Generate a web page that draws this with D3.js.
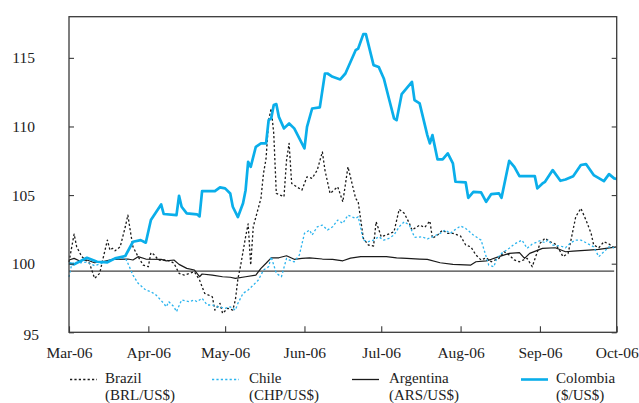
<!DOCTYPE html>
<html>
<head>
<meta charset="utf-8">
<script src="https://cdn.jsdelivr.net/npm/d3@7"></script>
<style>
  html, body { margin: 0; padding: 0; background: #fff; }
  svg { display: block; }
  text { font-family: "Liberation Serif", "Times New Roman", serif; fill: #222; }
</style>
</head>
<body>
<svg id="chart" width="639" height="403"></svg>
<script>
// Exchange rate indices, March 2006 = 100 (local currency per US$)
const brazil = [
  ["2006-03-01",100.12],["2006-03-03",102.16],["2006-03-04",101.23],["2006-03-06",100.51],["2006-03-09",100.03],
  ["2006-03-11",98.93],["2006-03-13",99.30],["2006-03-14",100.14],["2006-03-16",101.72],["2006-03-17",100.99],
  ["2006-03-18",101.12],["2006-03-19",100.94],["2006-03-21",101.23],["2006-03-23",102.69],["2006-03-24",103.54],
  ["2006-03-25",102.33],["2006-03-26",101.23],["2006-03-28",100.51],["2006-03-30",99.90],["2006-04-01",99.78],
  ["2006-04-02",100.80],["2006-04-03",100.70],["2006-04-05",100.27],["2006-04-08",100.27],["2006-04-10",100.14],
  ["2006-04-11",100.03],["2006-04-13",99.30],["2006-04-15",99.17],["2006-04-19",99.41],["2006-04-21",98.81],
  ["2006-04-23",97.84],["2006-04-26",97.59],["2006-04-27",96.62],["2006-04-29",97.11],["2006-04-30",96.38],
  ["2006-05-02",96.75],["2006-05-04",96.62],["2006-05-05",97.35],["2006-05-06",98.90],["2006-05-07",99.80],
  ["2006-05-09",101.96],["2006-05-10",102.90],["2006-05-11",99.90],["2006-05-12",102.70],["2006-05-15",104.76],
  ["2006-05-16",106.58],["2006-05-17",107.67],["2006-05-18",110.46],["2006-05-19",111.31],["2006-05-20",109.49],
  ["2006-05-21",105.12],["2006-05-24",104.88],["2006-05-25",107.55],["2006-05-26",108.77],["2006-05-27",105.85],
  ["2006-05-29",105.60],["2006-05-31",105.36],["2006-06-02",106.33],["2006-06-04",106.22],["2006-06-06",106.82],
  ["2006-06-08",108.15],["2006-06-09",106.82],["2006-06-11",105.12],["2006-06-14",105.60],["2006-06-16",104.51],
  ["2006-06-18",107.06],["2006-06-21",104.76],["2006-06-22",104.51],["2006-06-24",101.85],["2006-06-26",101.36],
  ["2006-06-28",101.29],["2006-06-29",103.06],["2006-07-01",101.96],["2006-07-03",102.09],["2006-07-06",102.33],
  ["2006-07-08",103.96],["2006-07-10",103.67],["2006-07-12",102.94],["2006-07-13",102.45],["2006-07-16",102.81],
  ["2006-07-18",102.65],["2006-07-20",103.11],["2006-07-21",101.85],["2006-07-23",102.09],["2006-07-25",102.45],
  ["2006-07-27",102.21],["2006-07-29",102.21],["2006-08-01",102.01],["2006-08-03",101.36],["2006-08-05",101.23],
  ["2006-08-07",100.63],["2006-08-09",100.27],["2006-08-11",100.43],["2006-08-13",100.14],["2006-08-16",100.39],
  ["2006-08-18",100.87],["2006-08-20",100.63],["2006-08-22",100.27],["2006-08-24",100.14],["2006-08-27",100.39],
  ["2006-08-29",99.78],["2006-08-31",100.87],["2006-09-01",101.48],["2006-09-03",101.85],["2006-09-05",101.60],
  ["2006-09-07",101.43],["2006-09-09",100.87],["2006-09-10",100.51],["2006-09-12",100.75],["2006-09-13",101.60],
  ["2006-09-15",103.42],["2006-09-17",104.03],["2006-09-19",103.18],["2006-09-21",102.21],["2006-09-22",101.36],
  ["2006-09-24",101.16],["2006-09-26",101.60],["2006-09-28",101.43],["2006-09-30",101.16]
];

const chile = [
  ["2006-03-01",99.03],["2006-03-02",99.90],["2006-03-03",100.12],["2006-03-05",100.05],["2006-03-08",100.12],
  ["2006-03-11",99.85],["2006-03-16",100.19],["2006-03-19",100.34],["2006-03-23",100.41],["2006-03-24",100.03],
  ["2006-03-26",99.17],["2006-03-28",98.57],["2006-03-31",98.08],["2006-04-02",97.96],["2006-04-04",97.72],
  ["2006-04-07",97.11],["2006-04-08",96.86],["2006-04-09",97.23],["2006-04-11",96.86],["2006-04-12",96.50],
  ["2006-04-14",97.35],["2006-04-17",97.23],["2006-04-19",97.35],["2006-04-20",97.23],["2006-04-22",97.48],
  ["2006-04-24",96.99],["2006-04-26",96.99],["2006-04-28",96.86],["2006-05-01",96.75],["2006-05-03",96.86],
  ["2006-05-05",96.62],["2006-05-06",97.11],["2006-05-08",97.84],["2006-05-10",98.08],["2006-05-12",98.44],
  ["2006-05-14",98.81],["2006-05-16",99.54],["2006-05-18",99.78],["2006-05-19",100.51],["2006-05-21",99.30],
  ["2006-05-23",99.05],["2006-05-25",100.39],["2006-05-26",100.27],["2006-05-28",100.14],["2006-05-30",100.63],
  ["2006-06-01",102.21],["2006-06-03",102.45],["2006-06-04",102.09],["2006-06-06",102.69],["2006-06-08",102.81],
  ["2006-06-10",102.45],["2006-06-12",102.69],["2006-06-14",103.18],["2006-06-16",102.94],["2006-06-18",103.54],
  ["2006-06-21",103.30],["2006-06-22",103.42],["2006-06-24",101.72],["2006-06-26",101.60],["2006-06-28",101.72],
  ["2006-06-30",101.96],["2006-07-02",101.72],["2006-07-04",101.85],["2006-07-06",102.09],["2006-07-08",102.69],
  ["2006-07-10",103.06],["2006-07-12",102.81],["2006-07-14",101.92],["2006-07-17",101.96],["2006-07-19",101.80],
  ["2006-07-21",101.96],["2006-07-24",102.21],["2006-07-26",102.45],["2006-07-28",102.21],["2006-07-30",102.50],
  ["2006-08-01",102.74],["2006-08-03",102.57],["2006-08-06",102.09],["2006-08-09",101.72],["2006-08-11",100.51],
  ["2006-08-12",99.90],["2006-08-14",99.78],["2006-08-15",100.32],["2006-08-17",100.75],["2006-08-20",101.12],
  ["2006-08-22",101.43],["2006-08-25",101.72],["2006-08-27",101.12],["2006-08-29",101.43],["2006-09-01",101.67],
  ["2006-09-03",101.53],["2006-09-04",101.72],["2006-09-06",101.36],["2006-09-09",101.29],["2006-09-11",101.16],
  ["2006-09-13",101.53],["2006-09-15",101.72],["2006-09-17",101.72],["2006-09-20",101.43],["2006-09-22",101.23],
  ["2006-09-24",100.51],["2006-09-26",100.87],["2006-09-28",101.23],["2006-09-30",101.16]
];

const argentina = [
  ["2006-03-01",100.27],["2006-03-03",100.39],["2006-03-05",100.21],["2006-03-08",100.27],["2006-03-11",100.07],
  ["2006-03-14",100.14],["2006-03-18",100.32],["2006-03-24",100.34],["2006-03-26",100.27],["2006-03-28",100.51],
  ["2006-03-31",100.34],["2006-04-06",100.32],["2006-04-08",100.21],["2006-04-11",100.27],["2006-04-13",99.95],
  ["2006-04-16",99.66],["2006-04-19",99.54],["2006-04-21",99.05],["2006-04-22",99.25],["2006-04-26",99.17],
  ["2006-04-30",99.05],["2006-05-03",99.01],["2006-05-05",98.93],["2006-05-09",99.05],["2006-05-13",99.17],
  ["2006-05-15",99.66],["2006-05-17",100.03],["2006-05-19",100.43],["2006-05-22",100.43],["2006-05-25",100.58],
  ["2006-05-28",100.32],["2006-05-31",100.39],["2006-06-03",100.43],["2006-06-08",100.34],["2006-06-12",100.32],
  ["2006-06-16",100.21],["2006-06-19",100.41],["2006-06-23",100.51],["2006-06-28",100.51],["2006-07-03",100.51],
  ["2006-07-07",100.43],["2006-07-11",100.39],["2006-07-16",100.34],["2006-07-19",100.32],["2006-07-24",100.07],
  ["2006-07-29",99.95],["2006-08-05",99.90],["2006-08-07",100.14],["2006-08-11",100.21],["2006-08-13",100.32],
  ["2006-08-16",100.51],["2006-08-20",100.75],["2006-08-24",100.80],["2006-08-26",100.39],["2006-08-28",100.75],
  ["2006-09-02",101.12],["2006-09-07",101.16],["2006-09-11",100.87],["2006-09-14",100.92],["2006-09-20",100.99],
  ["2006-09-24",101.04],["2006-10-01",101.23]
];

const colombia = [
  ["2006-03-01",100.03],["2006-03-03",99.95],["2006-03-08",100.43],["2006-03-12",100.14],["2006-03-16",100.10],
  ["2006-03-19",100.39],["2006-03-23",100.56],["2006-03-26",101.60],["2006-03-29",101.72],["2006-03-31",101.53],
  ["2006-04-02",103.18],["2006-04-06",104.32],["2006-04-07",103.62],["2006-04-12",103.54],["2006-04-13",104.95],
  ["2006-04-14",104.15],["2006-04-16",103.67],["2006-04-20",103.60],["2006-04-21",103.45],["2006-04-22",105.29],
  ["2006-04-27",105.29],["2006-04-29",105.56],["2006-05-01",105.49],["2006-05-03",105.12],["2006-05-04",104.15],
  ["2006-05-06",103.40],["2006-05-08",104.40],["2006-05-09",105.36],["2006-05-10",107.43],["2006-05-11",107.06],
  ["2006-05-13",108.52],["2006-05-15",108.77],["2006-05-17",108.77],["2006-05-18",110.46],["2006-05-19",110.59],
  ["2006-05-20",111.56],["2006-05-21",111.63],["2006-05-22",110.70],["2006-05-24",109.86],["2006-05-26",110.22],
  ["2006-05-28",109.86],["2006-06-01",108.40],["2006-06-02",109.97],["2006-06-04",111.31],["2006-06-07",111.39],
  ["2006-06-09",113.86],["2006-06-10",113.86],["2006-06-12",113.62],["2006-06-15",113.43],["2006-06-17",113.86],
  ["2006-06-21",115.56],["2006-06-22",115.68],["2006-06-24",116.73],["2006-06-25",116.73],["2006-06-28",114.47],
  ["2006-06-30",114.34],["2006-07-02",113.50],["2006-07-04",112.04],["2006-07-06",110.59],["2006-07-07",110.46],
  ["2006-07-09",112.36],["2006-07-13",113.25],["2006-07-14",111.92],["2006-07-16",111.68],["2006-07-19",109.37],
  ["2006-07-20",108.77],["2006-07-21",109.37],["2006-07-23",107.60],["2006-07-25",107.60],["2006-07-27",108.04],
  ["2006-07-29",107.31],["2006-07-30",105.97],["2006-08-03",105.92],["2006-08-04",104.80],["2006-08-06",105.24],
  ["2006-08-09",105.20],["2006-08-11",104.51],["2006-08-13",105.07],["2006-08-16",105.12],["2006-08-17",104.80],
  ["2006-08-20",107.50],["2006-08-22",107.06],["2006-08-24",106.38],["2006-08-30",106.38],["2006-08-31",105.49],
  ["2006-09-02",105.85],["2006-09-03",105.97],["2006-09-06",106.82],["2006-09-09",106.04],["2006-09-11",106.14],
  ["2006-09-14",106.38],["2006-09-17",107.19],["2006-09-19",107.26],["2006-09-22",106.46],["2006-09-26",106.02],
  ["2006-09-28",106.53],["2006-09-30",106.22],["2006-10-01",106.17]
];

// Horizontal reference level across the period
const referenceLevel = 99.46;
const referenceSpan = ["2006-03-01", "2006-09-30"];

const yTicks = [95, 100, 105, 110, 115];
const monthTicks = ["2006-03-01","2006-04-01","2006-05-01","2006-06-01","2006-07-01","2006-08-01","2006-09-01","2006-10-01"];

const legendNames = ["Brazil", "Chile", "Argentina", "Colombia"];
const legendUnits = ["(BRL/US$)", "(CHP/US$)", "(ARS/US$)", "($/US$)"];

const parseDate = d3.timeParse("%Y-%m-%d");
const fmtMonth = d3.timeFormat("%b-%y");

const margin = { left: 69, right: 22.3, top: 16.7, bottom: 70.7 };
const W = 639, H = 403;
const svg = d3.select("#chart");

const x = d3.scaleTime()
  .domain([parseDate("2006-03-01"), parseDate("2006-10-01")])
  .range([margin.left, W - margin.right]);
const y = d3.scaleLinear()
  .domain([95, 118])
  .range([H - margin.bottom, margin.top]);

const fontSize = 15.5;
const legendFontSize = 15;

// Reference level line
svg.append("line")
  .attr("x1", x(parseDate(referenceSpan[0])))
  .attr("x2", x(parseDate(referenceSpan[1])))
  .attr("y1", y(referenceLevel))
  .attr("y2", y(referenceLevel))
  .attr("stroke", "#111")
  .attr("stroke-width", 1);

const styles = {
  argentina: { color: "#1a1a1a", width: 1.2, dash: null },
  brazil:    { color: "#1a1a1a", width: 1.3, dash: "2.2,2.2" },
  chile:     { color: "#2bb4ee", width: 1.3, dash: "2.2,2.2" },
  colombia:  { color: "#0aaeea", width: 2.7, dash: null }
};

const line = d3.line()
  .x(d => x(parseDate(d[0])))
  .y(d => y(d[1]));

const series = [
  ["argentina", argentina],
  ["brazil", brazil],
  ["chile", chile],
  ["colombia", colombia]
];

series.forEach(([key, data]) => {
  const s = styles[key];
  svg.append("path")
    .datum(data)
    .attr("fill", "none")
    .attr("stroke", s.color)
    .attr("stroke-width", s.width)
    .attr("stroke-linejoin", "round")
    .attr("stroke-dasharray", s.dash)
    .attr("d", line);
});

// Axes with inward ticks
const axisColor = "#3a3a3a";
const leftAxis = svg.append("g")
  .attr("transform", `translate(${margin.left},0)`)
  .call(d3.axisLeft(y).tickValues(yTicks).tickSize(-5).tickSizeOuter(0).tickPadding(34));
leftAxis.selectAll("text").filter(d => d === 95).attr("dx", 4).attr("dy", "0.45em");

const rightAxis = svg.append("g")
  .attr("transform", `translate(${W - margin.right},0)`)
  .call(d3.axisRight(y).tickValues(yTicks).tickSize(-5).tickSizeOuter(0).tickFormat(""));

const bottomAxis = svg.append("g")
  .attr("transform", `translate(0,${H - margin.bottom})`)
  .call(d3.axisBottom(x).tickValues(monthTicks.map(parseDate)).tickSize(-6).tickSizeOuter(0)
    .tickPadding(14.5).tickFormat(fmtMonth));

[leftAxis, rightAxis, bottomAxis].forEach(g => {
  g.select(".domain").remove();
  g.selectAll(".tick line").attr("stroke", axisColor).attr("stroke-width", 1.1);
  g.selectAll("text")
    .attr("font-family", "'Liberation Serif', 'Times New Roman', serif")
    .attr("font-size", fontSize)
    .attr("fill", "#222");
});

// Plot frame
svg.append("rect")
  .attr("x", margin.left)
  .attr("y", margin.top)
  .attr("width", W - margin.left - margin.right)
  .attr("height", H - margin.top - margin.bottom)
  .attr("fill", "none")
  .attr("stroke", axisColor)
  .attr("stroke-width", 1.3);

// Legend
const legendKeys = ["brazil", "chile", "argentina", "colombia"];
const legendX = [70, 212, 352, 521];
const legendTextX = [105, 249, 389, 556];
const legendY = 379.5;

legendKeys.forEach((key, i) => {
  const s = styles[key];
  svg.append("line")
    .attr("x1", legendX[i])
    .attr("x2", legendX[i] + 27)
    .attr("y1", legendY)
    .attr("y2", legendY)
    .attr("stroke", s.color)
    .attr("stroke-width", key === "colombia" ? 2.6 : 1.3)
    .attr("stroke-dasharray", s.dash);
  const t = svg.append("text")
    .attr("x", legendTextX[i])
    .attr("y", 383)
    .attr("font-size", legendFontSize);
  t.append("tspan").attr("x", legendTextX[i]).text(legendNames[i]);
  t.append("tspan").attr("x", legendTextX[i]).attr("dy", 16.6).text(legendUnits[i]);
});
</script>
</body>
</html>
